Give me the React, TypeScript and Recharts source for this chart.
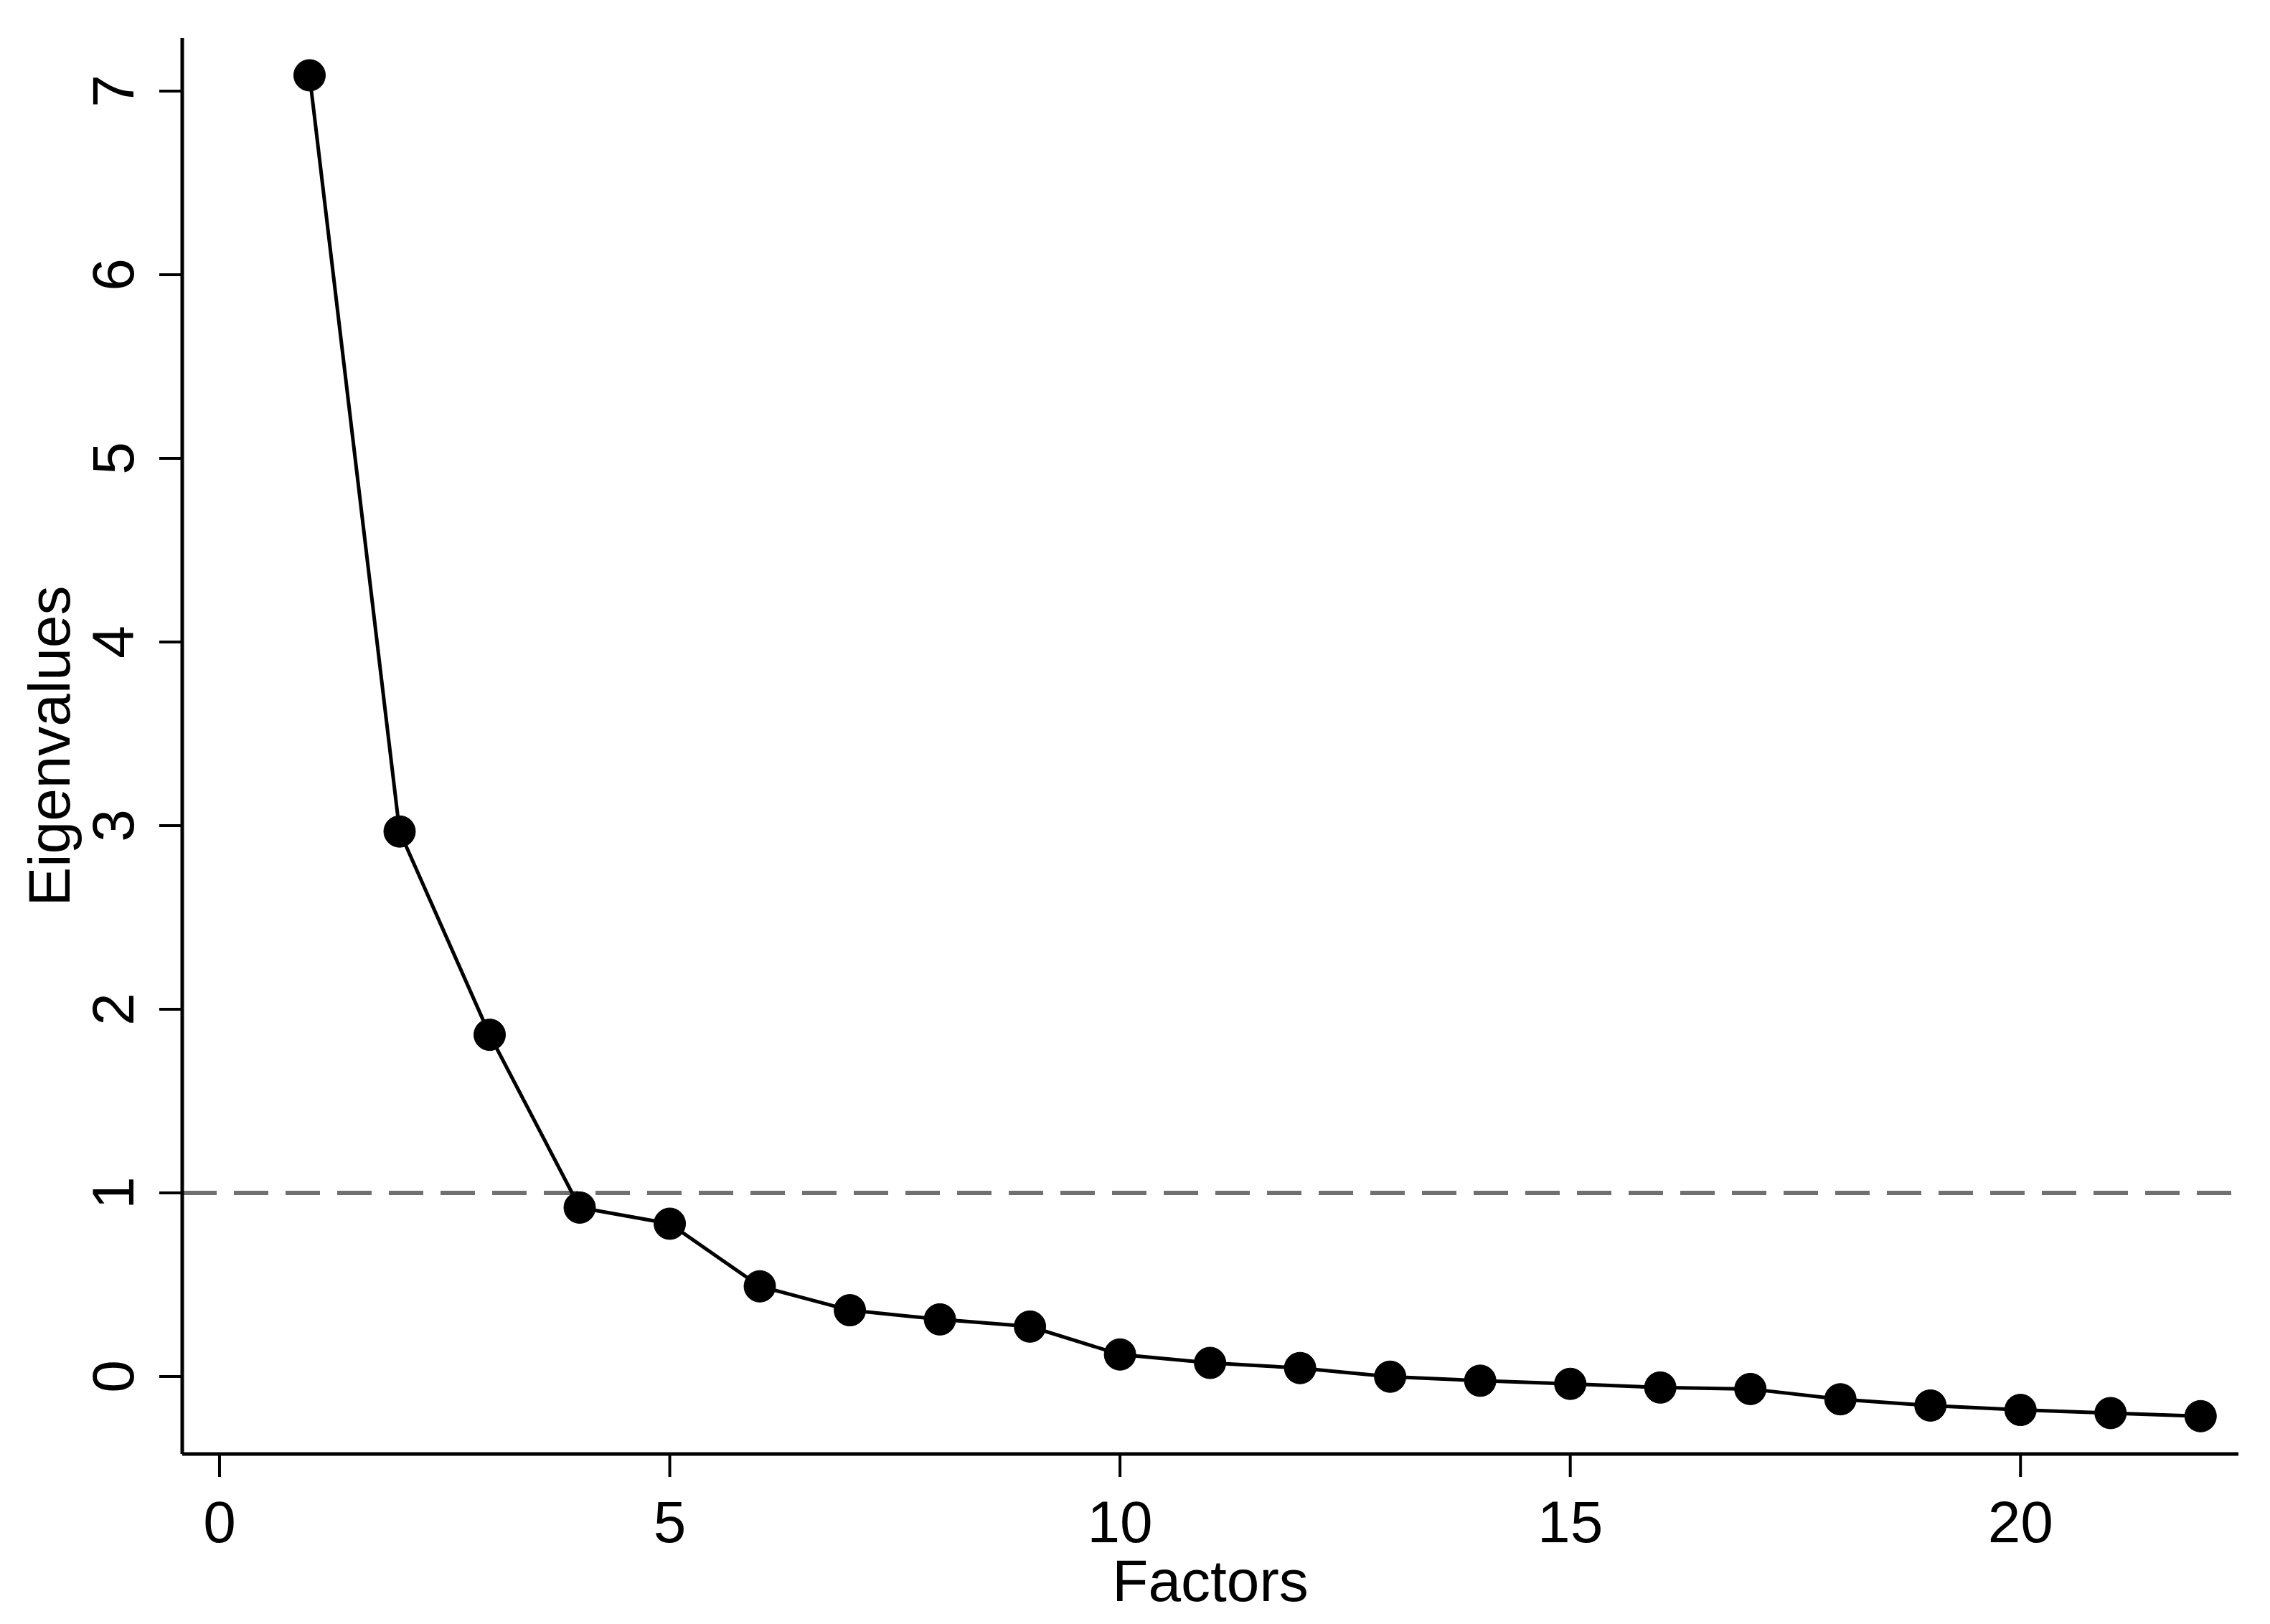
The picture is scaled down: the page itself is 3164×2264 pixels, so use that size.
import { Label, Line, LineChart, ReferenceLine, XAxis, YAxis } from 'recharts'

const factors = [1, 2, 3, 4, 5, 6, 7, 8, 9, 10, 11, 12, 13, 14, 15, 16, 17, 18, 19, 20, 21, 22]
const eigenvalues = [
  7.086, 2.968, 1.861, 0.92, 0.832, 0.491, 0.361, 0.311, 0.272, 0.12, 0.074, 0.046, -0.001, -0.023, -0.04,
  -0.06, -0.068, -0.124, -0.158, -0.182, -0.199, -0.216,
]
const xTicks = [0, 5, 10, 15, 20]
const yTicks = [0, 1, 2, 3, 4, 5, 6, 7]

const data = factors.map((f, i) => ({ factor: f, value: eigenvalues[i] }))

const FONT = '"Liberation Sans", Arial, Helvetica, sans-serif'
const FONT_SIZE = 82

function XTick({ x, y, payload }: any) {
  return (
    <text x={x} y={y} dy={91} textAnchor="middle" fontFamily={FONT} fontSize={FONT_SIZE} fill="#000">
      {payload.value}
    </text>
  )
}

function YTick({ x, y, payload }: any) {
  const bx = x - 36
  return (
    <text
      x={bx}
      y={y}
      textAnchor="middle"
      transform={`rotate(-90, ${bx}, ${y})`}
      fontFamily={FONT}
      fontSize={FONT_SIZE}
      fill="#000"
    >
      {payload.value}
    </text>
  )
}

function YTitle({ viewBox }: any) {
  const cx = 97
  const cy = viewBox.y + viewBox.height / 2
  return (
    <text
      x={cx}
      y={cy}
      textAnchor="middle"
      transform={`rotate(-90, ${cx}, ${cy})`}
      fontFamily={FONT}
      fontSize={FONT_SIZE}
      fill="#000"
    >
      Eigenvalues
    </text>
  )
}

function XTitle({ viewBox }: any) {
  const cx = viewBox.x + viewBox.width / 2
  return (
    <text x={cx} y={2232} textAnchor="middle" fontFamily={FONT} fontSize={FONT_SIZE} fill="#000">
      Factors
    </text>
  )
}

export default function App() {
  return (
    <div style={{ position: 'absolute', left: 0, top: 0, width: 3164, height: 2264, background: '#fff' }}>
      <LineChart width={3164} height={2264} data={data} margin={{ top: 53, right: 44, bottom: 0, left: 0 }}>
        <XAxis
          dataKey="factor"
          type="number"
          domain={[-0.414, 22.42]}
          ticks={xTicks}
          allowDataOverflow
          height={237}
          tickSize={32}
          tickMargin={0}
          axisLine={{ stroke: '#000', strokeWidth: 5 }}
          tickLine={{ stroke: '#000', strokeWidth: 4 }}
          tick={<XTick />}
        >
          <Label content={<XTitle />} />
        </XAxis>
        <YAxis
          type="number"
          domain={[-0.422, 7.289]}
          ticks={yTicks}
          allowDataOverflow
          width={254}
          tickSize={32}
          tickMargin={0}
          axisLine={{ stroke: '#000', strokeWidth: 5 }}
          tickLine={{ stroke: '#000', strokeWidth: 4 }}
          tick={<YTick />}
        >
          <Label content={<YTitle />} />
        </YAxis>
        <ReferenceLine y={1} stroke="#707070" strokeWidth={6} strokeDasharray="48 24" />
        <Line
          dataKey="value"
          type="linear"
          stroke="#000"
          strokeWidth={5}
          dot={{ r: 22, fill: '#000', stroke: '#000', strokeWidth: 1 }}
          activeDot={false}
          isAnimationActive={false}
        />
      </LineChart>
    </div>
  )
}
